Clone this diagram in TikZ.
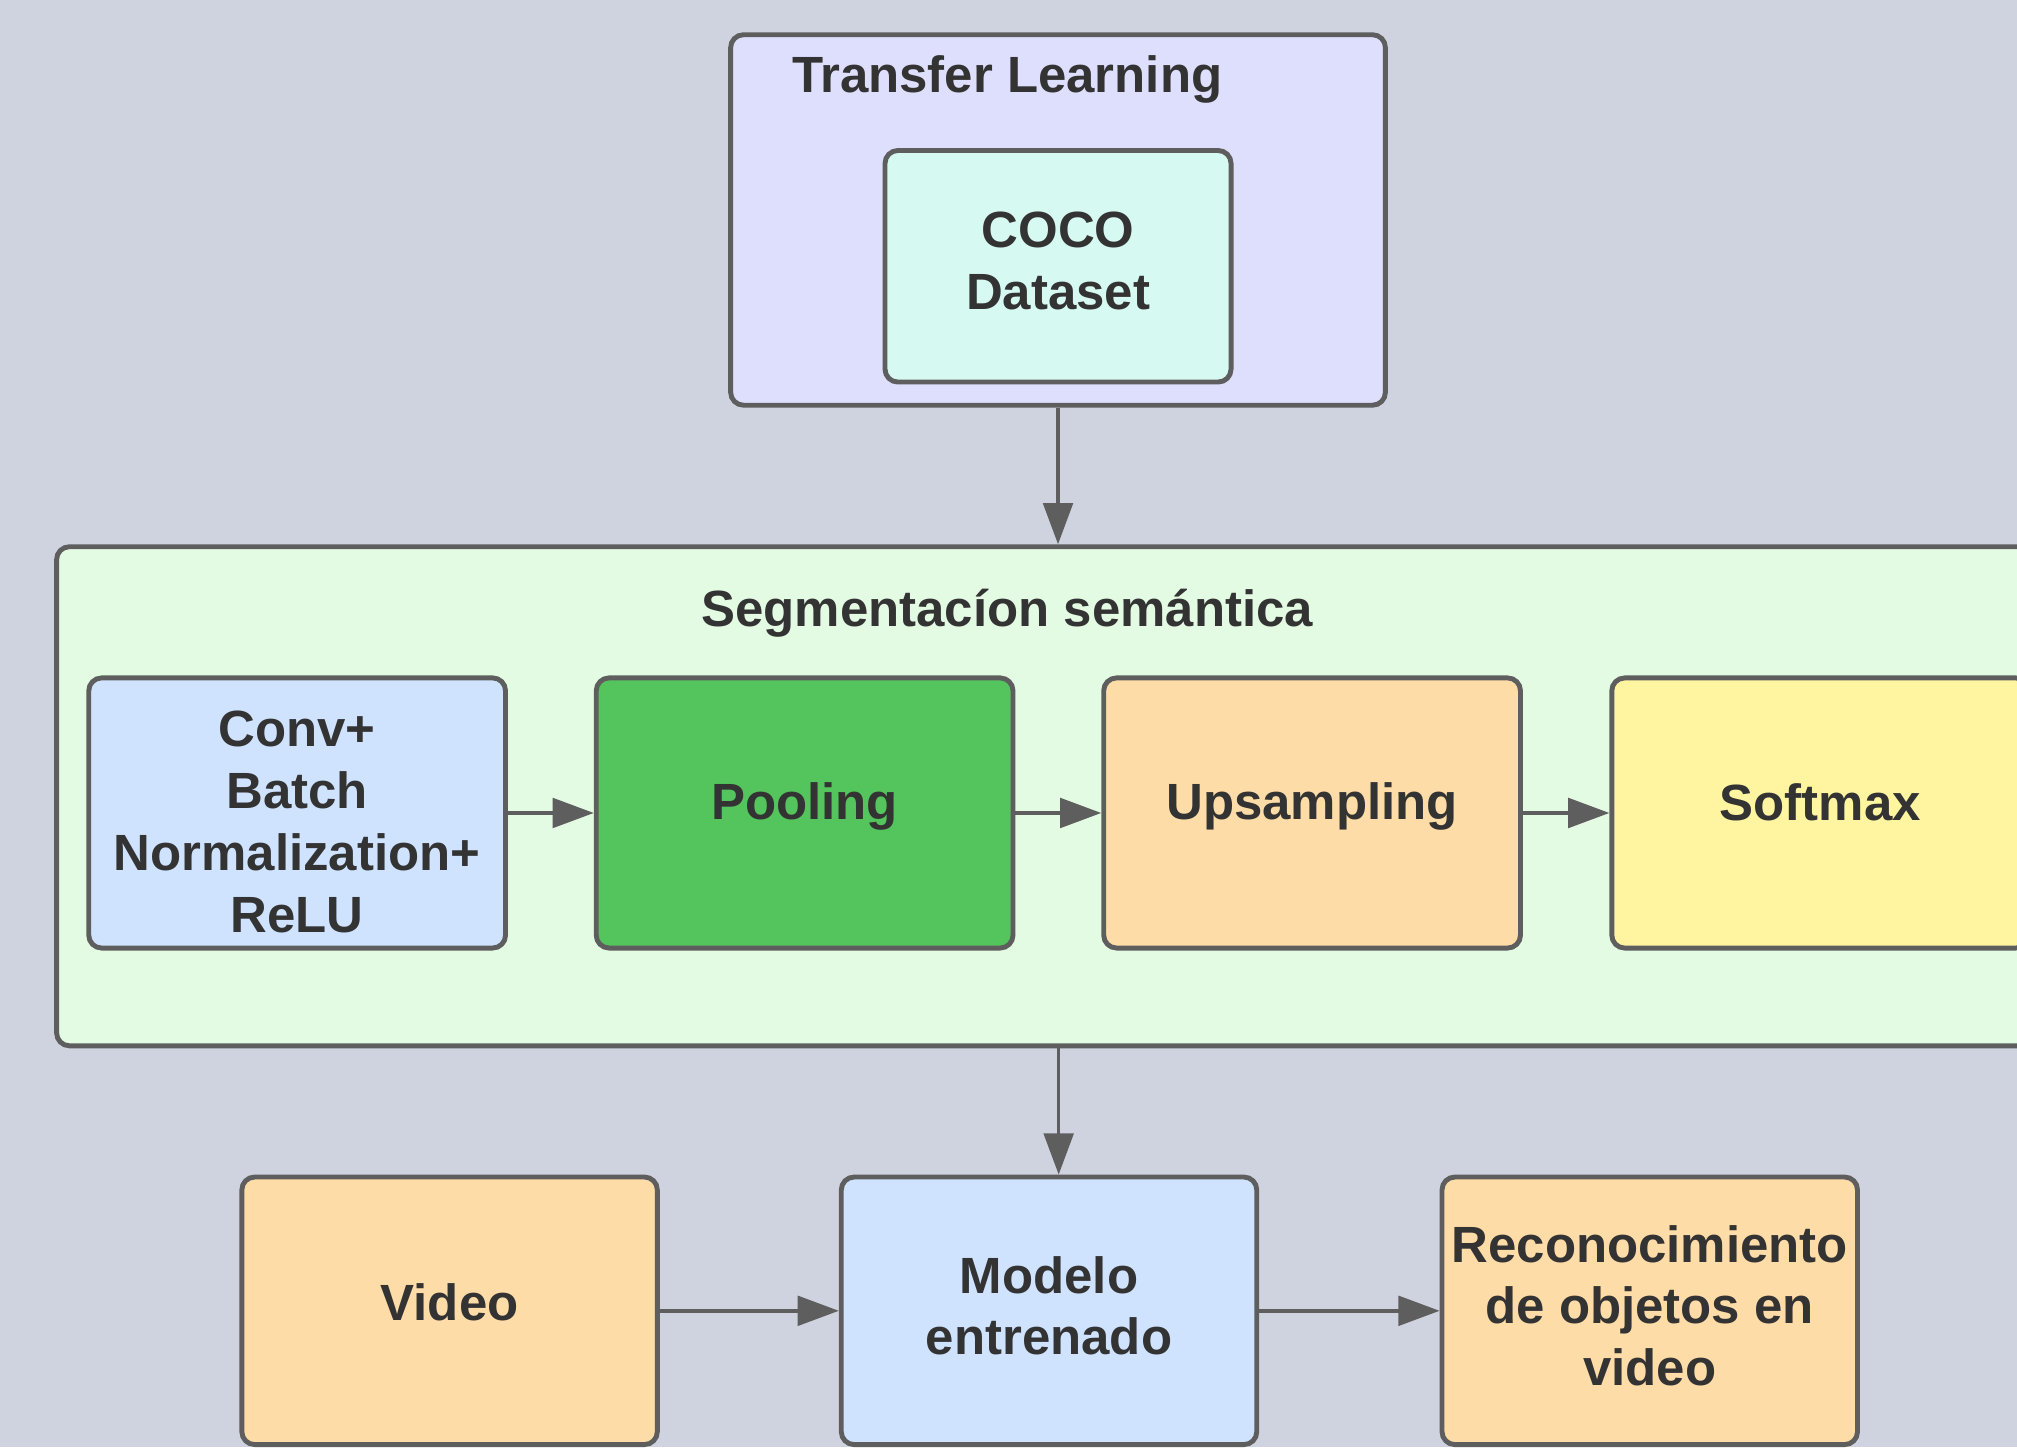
\documentclass[tikz,border=0pt]{standalone}
\usepackage{fontspec}
\setmainfont{Liberation Sans}
\usetikzlibrary{arrows.meta}
\definecolor{bg}{HTML}{CED3DF}
\definecolor{bord}{HTML}{5E5E5E}
\definecolor{txt}{HTML}{333333}
\definecolor{lav}{HTML}{DEDEFD}
\definecolor{mint}{HTML}{D6F9F1}
\definecolor{lgreen}{HTML}{E3FAE3}
\definecolor{lblue}{HTML}{CFE3FE}
\definecolor{dgreen}{HTML}{54C45D}
\definecolor{peach}{HTML}{FEDCA7}
\definecolor{yel}{HTML}{FFF5A1}
\begin{document}
\begin{tikzpicture}[x=0.5pt,y=-0.5pt,
  box/.style={draw=bord, line width=1.9pt, rounded corners=5pt, inner sep=0pt},
  lbl/.style={text=txt, font=\bfseries\fontsize{19.8}{24}\selectfont, align=center, inner sep=0pt},
  conn/.style={draw=bord, line width=1.35pt, -{Triangle[length=16pt,width=11.5pt]}}]
\useasboundingbox (0,0) rectangle (1568,1125);
\fill[bg] (0,0) rectangle (1568,1125);
\begin{scope}
\clip (0,0) rectangle (1568,1125);
% Transfer learning
\node[box, fill=lav, minimum width=254.5pt, minimum height=144pt] (tl) at (822.5,171) {};
\node[lbl] (tltitle) at (783,62) {Transfer Learning};
\node[box, fill=mint, minimum width=134.5pt, minimum height=90pt] (coco) at (822.5,207) {};
\node[lbl] (cocot) at ([yshift=2pt]coco.center) {COCO\\Dataset};
% Segmentation
\node[box, fill=lgreen, minimum width=779pt, minimum height=194pt] (seg) at (823,619) {};
\node[lbl] (segtitle) at (783,477) {Segmentacíon semántica};
\node[box, fill=lblue, minimum width=162pt, minimum height=105pt] (conv) at (231,632) {};
\node[lbl] (convt) at ([yshift=-3.5pt]conv.center) {Conv+\\Batch\\Normalization+\\ReLU};
\node[box, fill=dgreen, minimum width=162pt, minimum height=105pt] (pool) at (625.5,632) {};
\node[lbl] (poolt) at ([yshift=2.5pt]pool.center) {Pooling};
\node[box, fill=peach, minimum width=162pt, minimum height=105pt] (up) at (1020,632) {};
\node[lbl] (upt) at ([yshift=2.5pt]up.center) {Upsampling};
\node[box, fill=yel, minimum width=162pt, minimum height=105pt] (soft) at (1415,632) {};
\node[lbl] (softt) at ([yshift=4pt]soft.center) {Softmax};
% Bottom row
\node[box, fill=peach, minimum width=161.5pt, minimum height=104pt] (video) at (349.5,1019) {};
\node[lbl] (videot) at ([yshift=3.5pt]video.center) {Video};
\node[box, fill=lblue, minimum width=161.5pt, minimum height=104pt] (model) at (815.5,1019) {};
\node[lbl] (modelt) at ([yshift=2pt]model.center) {Modelo\\entrenado};
\node[box, fill=peach, minimum width=161.5pt, minimum height=104pt] (recog) at (1282.5,1019) {};
\node[lbl] (recogt) at ([yshift=2pt]recog.center) {Reconocimiento\\de objetos en\\video};
% connectors
\draw[conn] (tl.south) -- (tl.south |- seg.north);
\draw[conn] (conv.east) -- (pool.west);
\draw[conn] (pool.east) -- (up.west);
\draw[conn] (up.east) -- (soft.west);
\draw[conn] (seg.south) -- (seg.south |- model.north);
\draw[conn] (video.east) -- (model.west);
\draw[conn] (model.east) -- (recog.west);
\end{scope}
\end{tikzpicture}
\end{document}
